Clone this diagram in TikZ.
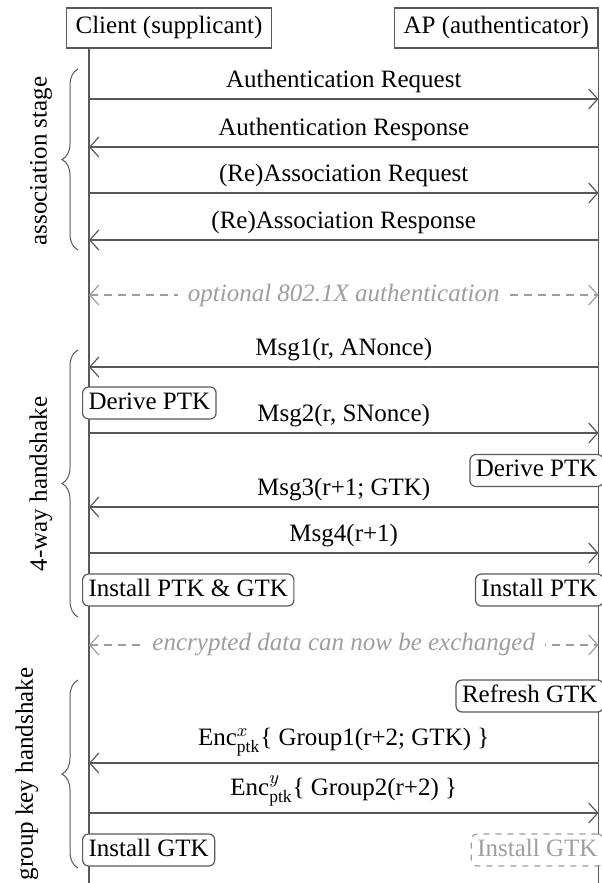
\documentclass[tikz,border=0pt]{standalone}
\usepackage{fontspec}
\setmainfont{Liberation Serif}
\usetikzlibrary{arrows.meta,decorations.pathreplacing}

\definecolor{lineclr}{gray}{0.35}
\definecolor{fadeclr}{gray}{0.62}

\tikzset{
  every node/.style={font=\fontsize{12.5}{15}\selectfont},
  lifeline/.style={draw=lineclr, line width=0.7pt},
  actor/.style={draw=lineclr, fill=white, line width=0.6pt, inner xsep=4.5pt,
    minimum height=20pt, text height=8.5pt, text depth=2.5pt},
  msg/.style={draw=lineclr, line width=0.6pt},
  toap/.style={msg, -{Straight Barb[length=4.5pt,width=10pt]}},
  tocli/.style={msg, {Straight Barb[length=4.5pt,width=10pt]}-},
  msglbl/.style={above, inner sep=2.5pt, text depth=3pt},
  action/.style={draw=lineclr, fill=white, rounded corners=3pt, line width=0.6pt,
    inner xsep=3pt, inner ysep=2.5pt, text height=8.5pt, text depth=2.5pt},
  ghost/.style={action, dashed, draw=fadeclr, text=fadeclr},
  optional/.style={draw=fadeclr, line width=0.6pt, dash pattern=on 4pt off 3pt,
    {Straight Barb[length=4.5pt,width=10pt]}-{Straight Barb[length=4.5pt,width=10pt]}},
  optlbl/.style={fill=white, text=fadeclr, inner xsep=5pt, font=\fontsize{12.5}{15}\selectfont\itshape},
  phase/.style={draw=lineclr, line width=0.5pt, decorate, decoration={brace, amplitude=8pt}},
  phaselbl/.style={rotate=90}
}

\begin{document}
\begin{tikzpicture}[x=0.5pt, y=-0.5pt]
  \useasboundingbox (0,0) rectangle (601,883);

  % Parties
  \node[actor, anchor=west] (client) at (66,28) {Client (supplicant)};
  \node[actor, anchor=east] (ap) at (598.5,28) {AP (authenticator)};
  \coordinate (cbot) at (89,883);
  \coordinate (abot) at (598.5,883);
  \draw[lifeline] (client.south -| cbot) -- (cbot);
  \draw[lifeline] (ap.south -| abot) -- (abot);

  % Messages
  \foreach \i/\y/\dir/\lbl in {1/99/toap/Authentication Request,
      2/147/tocli/Authentication Response,
      3/193/toap/(Re)Association Request,
      4/240/tocli/(Re)Association Response,
      5/367/tocli/{Msg1(r, ANonce)},
      6/433/toap/{Msg2(r, SNonce)},
      7/507/tocli/{Msg3(r+1; GTK)},
      8/553/toap/{Msg4(r+1)}}{
    \coordinate (c\i) at (89,\y);
    \coordinate (a\i) at (598.5,\y);
    \draw[\dir] (c\i) -- node[msglbl] (m\i) {\lbl} (a\i);
  }

  % Group key messages
  \coordinate (c9) at (89,763);
  \coordinate (a9) at (598.5,763);
  \draw[tocli] (c9) -- node[msglbl, text depth=6pt] (m9)
    {Enc$^{x}_{\mathrm{ptk}}$\{ Group1(r+2; GTK) \}} (a9);
  \coordinate (c10) at (89,813);
  \coordinate (a10) at (598.5,813);
  \draw[toap] (c10) -- node[msglbl, text depth=6pt] (m10)
    {Enc$^{y}_{\mathrm{ptk}}$\{ Group2(r+2) \}} (a10);

  % Optional / encrypted
  \coordinate (copt) at (89,295);
  \coordinate (aopt) at (598.5,295);
  \draw[optional] (copt) -- node[optlbl] (opt) {optional 802.1X authentication} (aopt);
  \coordinate (cenc) at (89,645);
  \coordinate (aenc) at (598.5,645);
  \draw[optional] (cenc) -- node[optlbl] (enc) {encrypted data can now be exchanged} (aenc);

  % Local actions
  \node[action, anchor=west] (derivec) at (82,403) {Derive PTK};
  \node[action, anchor=east] (derivea) at (604,470.5) {Derive PTK};
  \node[action, anchor=west] (installc) at (82,590) {Install PTK \& GTK};
  \node[action, anchor=east] (installa) at (604,590) {Install PTK};
  \node[action, anchor=east] (refresh) at (604,696) {Refresh GTK};
  \node[action, anchor=west] (gtkc) at (82,850) {Install GTK};
  \node[ghost, anchor=east] (gtka) at (604,850) {Install GTK};

  % Stages
  \draw[phase] (78,250) -- (78,69);
  \node[phaselbl] (assoc) at (41,161) {association stage};
  \draw[phase] (78,617) -- (78,350);
  \node[phaselbl] (fourway) at (41,484) {4-way handshake};
  \draw[phase] (78,868) -- (78,680);
  \node[phaselbl] (groupkey) at (27,774) {group key handshake};
\end{tikzpicture}
\end{document}
